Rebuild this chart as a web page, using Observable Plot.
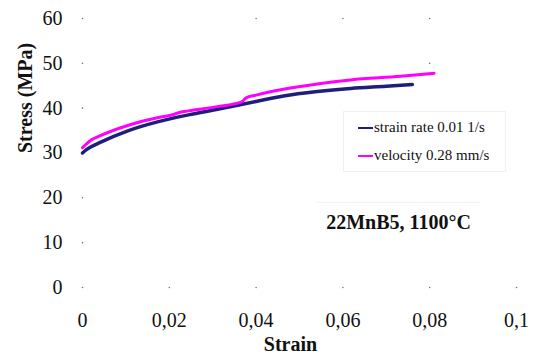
<!DOCTYPE html>
<html>
<head>
<meta charset="utf-8">
<script src="https://cdn.jsdelivr.net/npm/d3@7"></script>
<script src="https://cdn.jsdelivr.net/npm/@observablehq/plot@0.6"></script>
<style>
  html, body { margin: 0; padding: 0; background: #fff; }
  #wrap { position: relative; width: 535px; height: 356px; font-family: "Liberation Serif", "Times New Roman", serif; color: #111; }
  #legend { position: absolute; left: 343px; top: 111px; width: 163px; height: 61px; background: #fff; border: 1px solid #f0f0f0; box-sizing: border-box; font-size: 15px; }
  .li { position: absolute; left: 14px; display: flex; align-items: center; white-space: nowrap; }
  .sw { width: 15px; height: 2px; margin-right: 1px; }
  #note { position: absolute; left: 317px; top: 202px; width: 163px; height: 38px; background: #fff; border-top: 1px solid #f3f3f3; font-size: 20px; font-weight: bold; display: flex; align-items: center; justify-content: center; white-space: nowrap; }
</style>
</head>
<body>
<div id="wrap"></div>
<script>
// Series data
const seriesNames = ["strain rate 0.01 1/s", "velocity 0.28 mm/s"];
const seriesColors = ["#1e1e7c", "#ff00ff"];
const strainA = [0, 0.001, 0.002, 0.0037, 0.0106, 0.0175, 0.0244, 0.0314, 0.04, 0.0463, 0.0541, 0.0618, 0.07, 0.076];
const stressA = [30.0, 30.8, 31.4, 32.2, 35.0, 37.0, 38.5, 39.8, 41.5, 42.7, 43.7, 44.4, 44.9, 45.3];
const strainB = [0, 0.001, 0.002, 0.0037, 0.0106, 0.0175, 0.021, 0.0225, 0.0244, 0.0314, 0.0367, 0.0377, 0.04, 0.0463, 0.0541, 0.0618, 0.0733, 0.081];
const stressB = [31.2, 32.1, 32.9, 33.7, 36.2, 37.9, 38.6, 39.1, 39.4, 40.4, 41.4, 42.3, 42.9, 44.2, 45.4, 46.3, 47.1, 47.8];
const xTicks = [0, 0.02, 0.04, 0.06, 0.08, 0.1];
const yTicks = [0, 10, 20, 30, 40, 50, 60];
// visible grid intersection dots
const dotX = [0, 0, 0, 0, 0, 0, 0, 0.02, 0.04, 0.06, 0.08, 0.1, 0.04, 0.06, 0.08, 0.08];
const dotY = [0, 10, 20, 30, 40, 50, 60, 0, 0, 0, 0, 0, 60, 60, 60, 50];
const xTitle = "Strain";
const yTitle = "Stress (MPa)";
const noteText = "22MnB5, 1100°C";

const lineA = strainA.map((x, i) => ({x, y: stressA[i]}));
const lineB = strainB.map((x, i) => ({x, y: stressB[i]}));
const dots = dotX.map((x, i) => ({x, y: dotY[i]}));
const fmt = d => d === 0 ? "0" : String(d).replace(".", ",");

const chart = Plot.plot({
  width: 535,
  height: 356,
  marginLeft: 82,
  marginRight: 19,
  marginTop: 18,
  marginBottom: 69,
  style: {fontFamily: "Liberation Serif, Times New Roman, serif", background: "#fff", color: "#111"},
  x: {domain: [0, 0.1]},
  y: {domain: [0, 60]},
  marks: [
    Plot.dot(dots, {x: "x", y: "y", r: 0.8, fill: "#777", stroke: null}),
    Plot.axisX({ticks: xTicks, tickFormat: fmt, tickSize: 0, tickPadding: 25, fontSize: 20, label: null}),
    Plot.axisY({ticks: yTicks, tickSize: 0, tickPadding: 20, fontSize: 20, label: null}),
    Plot.line(lineA, {x: "x", y: "y", stroke: seriesColors[0], strokeWidth: 3.5, curve: "monotone-x"}),
    Plot.line(lineB, {x: "x", y: "y", stroke: seriesColors[1], strokeWidth: 3, curve: "monotone-x"}),
    Plot.text([xTitle], {frameAnchor: "bottom", dx: -9, dy: 57, fontSize: 20, fontWeight: "bold", lineAnchor: "middle"}),
    Plot.text([yTitle], {frameAnchor: "left", dx: -57, rotate: -90, fontSize: 20, fontWeight: "bold", lineAnchor: "middle"})
  ]
});

const wrap = document.getElementById("wrap");
wrap.appendChild(chart);

const legend = document.createElement("div");
legend.id = "legend";
seriesNames.forEach((name, i) => {
  const row = document.createElement("div");
  row.className = "li";
  row.style.top = (i === 0 ? 7 : 35) + "px";
  const sw = document.createElement("span");
  sw.className = "sw";
  sw.style.background = seriesColors[i];
  const t = document.createElement("span");
  t.textContent = name;
  row.appendChild(sw); row.appendChild(t);
  legend.appendChild(row);
});
wrap.appendChild(legend);

const note = document.createElement("div");
note.id = "note";
note.textContent = noteText;
wrap.appendChild(note);
</script>
</body>
</html>
